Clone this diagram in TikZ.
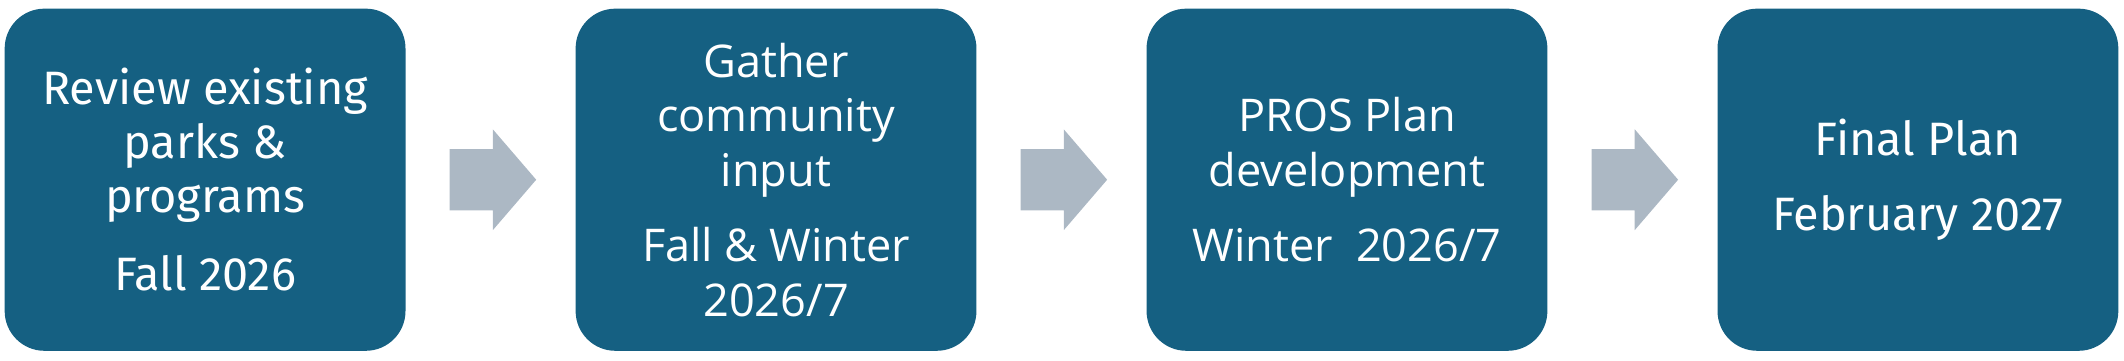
\documentclass[tikz,border=0pt]{standalone}
\usepackage{fontspec}
\usepackage{xcolor}
\usepackage{tikz}
\usetikzlibrary{shapes.arrows, positioning, calc}
\newfontfamily\dinfont{Fira Sans}
\newfontfamily\aptfont{Open Sans}
\newcommand{\dintext}{\dinfont\fontsize{13.4pt}{15.4pt}\selectfont}
\newcommand{\apttext}{\aptfont\fontsize{12.9pt}{15.6pt}\selectfont}
\definecolor{stagefill}{RGB}{21,96,130}
\definecolor{arrowgray}{RGB}{172,184,196}

\begin{document}
\begin{tikzpicture}[
  stage/.style={
    rectangle, rounded corners=0.4cm,
    minimum width=4.03cm, minimum height=3.44cm,
    inner sep=0pt, align=center, text=white,
    fill=stagefill, font=#1
  },
  flow/.style={
    single arrow, fill=arrowgray, draw=none,
    inner xsep=0pt, inner ysep=0.3cm,
    minimum height=0.87cm,
    single arrow head extend=0.2cm, single arrow tip angle=98.6
  }
]

\node[stage=\dintext] (review) {Review existing\\parks \&\\programs\\[7pt]Fall 2026};
\node[flow, right=0.43cm of review] (arr1) {};
\node[stage=\apttext, right=0.38cm of arr1] (gather) {Gather\\community\\input\\[6pt]Fall \& Winter\\2026/7};
\node[flow, right=0.43cm of gather] (arr2) {};
\node[stage=\apttext, right=0.38cm of arr2] (develop) {PROS Plan\\development\\[6pt]Winter~ 2026/7};
\node[flow, right=0.43cm of develop] (arr3) {};
\node[stage=\dintext, right=0.38cm of arr3] (final) {Final Plan\\[6pt]February 2027};

\useasboundingbox ($(review.north west)+(-0.04,0.08)$) rectangle ($(final.south east)+(0.05,-0.09)$);

\end{tikzpicture}
\end{document}
